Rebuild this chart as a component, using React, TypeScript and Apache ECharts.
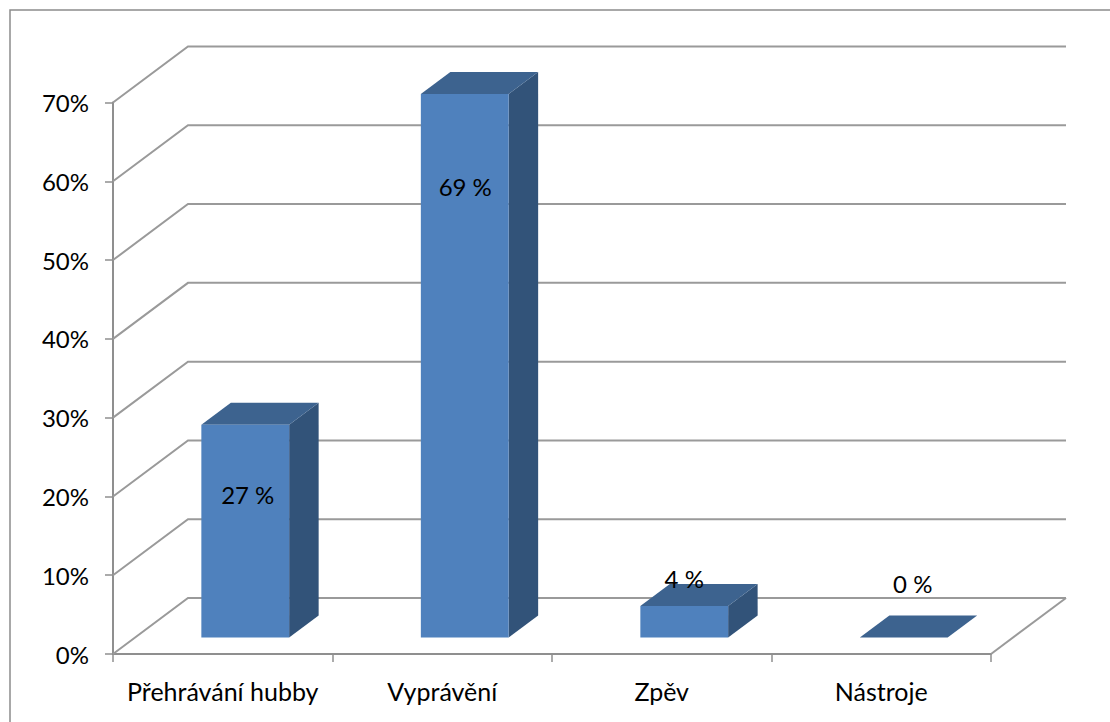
import React, { useEffect, useRef } from "react";
import * as echarts from "echarts";

const categories = ["Přehrávání hubby", "Vyprávění", "Zpěv", "Nástroje"];
const shares = [27, 69, 4, 0];
const wallTicks = [0, 10, 20, 30, 40, 50, 60, 70];

// Perspective of the box: how far the back wall sits from the front plane.
const WALL_DX = 75;
const WALL_DY = 56;
// Bars stand in the middle of the floor, with a shallower depth than the box.
const BAR_DX = 29.5;
const BAR_DY = 22;
const BAR_INSET_DX = 22.5;
const BAR_INSET_DY = 16.5;
const BAR_WIDTH_RATIO = 0.4;

// Where each value caption sits relative to the bar's top edge and centre.
const captionShiftX = [2.5, 0.5, 0, 9];
const captionShiftY = [70, 93, -27, -54];

const LINE = "#9a9a9a";
const AXIS = "#8f8f8f";
const FRONT = "#4f81bd";
const TOP = "#3d638f";
const SIDE = "#325379";
const FONT = "Lato";
const FONT_SIZE = 24;
const CATEGORY_FONT_SIZE = 25;

function renderWall(params: any, api: any) {
  const v = api.value(1);
  const cs = params.coordSys;
  const [, y] = api.coord([0, v]);
  const left = cs.x;
  const right = cs.x + cs.width;
  const children: any[] = [
    {
      type: "polyline",
      shape: {
        points: [
          [left, y],
          [left + WALL_DX, y - WALL_DY],
          [right + WALL_DX, y - WALL_DY],
        ],
      },
      style: { fill: "none", stroke: LINE, lineWidth: 2 },
    },
  ];
  if (v === 0) {
    children.push({
      type: "line",
      shape: { x1: right, y1: y, x2: right + WALL_DX, y2: y - WALL_DY },
      style: { stroke: LINE, lineWidth: 2 },
    });
  }
  return { type: "group", children };
}

function renderBar(params: any, api: any) {
  const i = params.dataIndex;
  const v = api.value(1);
  const [cx, y0] = api.coord([i, 0]);
  const [, yTop] = api.coord([i, v]);
  const width = api.size([1, 0])[0] * BAR_WIDTH_RATIO;
  const l = cx - width / 2 + BAR_INSET_DX;
  const r = l + width;
  const b = y0 - BAR_INSET_DY;
  const t = yTop - BAR_INSET_DY;
  const children: any[] = [
    {
      type: "polygon",
      shape: {
        points: [
          [r, b],
          [r + BAR_DX, b - BAR_DY],
          [r + BAR_DX, t - BAR_DY],
          [r, t],
        ],
      },
      style: { fill: SIDE },
    },
    {
      type: "polygon",
      shape: {
        points: [
          [l, t],
          [l + BAR_DX, t - BAR_DY],
          [r + BAR_DX, t - BAR_DY],
          [r, t],
        ],
      },
      style: { fill: TOP },
    },
    {
      type: "rect",
      shape: { x: l, y: t, width, height: b - t },
      style: { fill: FRONT },
    },
    {
      type: "text",
      style: {
        x: (l + r) / 2 + captionShiftX[i],
        y: t + captionShiftY[i],
        text: `${v} %`,
        fill: "#000",
        font: `${FONT_SIZE}px ${FONT}`,
        align: "center",
        verticalAlign: "middle",
      },
    },
  ];
  return { type: "group", children };
}

export default function App() {
  const ref = useRef<HTMLDivElement>(null);

  useEffect(() => {
    const chart = echarts.init(ref.current!, null, { renderer: "svg" });
    chart.setOption({
      animation: false,
      backgroundColor: "#fff",
      grid: { left: 113, right: 119, top: 102.5, bottom: 68 },
      graphic: [
        {
          type: "polyline",
          silent: true,
          shape: {
            points: [
              [10, 722],
              [10, 10],
              [1110, 10],
            ],
          },
          style: { fill: "none", stroke: "#8c8c8c", lineWidth: 1.5 },
        },
      ],
      xAxis: {
        type: "category",
        data: categories,
        axisLine: { lineStyle: { color: AXIS, width: 2 } },
        axisTick: { show: true, alignWithLabel: false, length: 8, lineStyle: { color: AXIS, width: 1.5 } },
        axisLabel: {
          color: "#000",
          fontFamily: FONT,
          fontSize: CATEGORY_FONT_SIZE,
          margin: 24,
          interval: 0,
        },
      },
      yAxis: {
        type: "value",
        min: 0,
        max: 70,
        interval: 10,
        splitLine: { show: false },
        axisLine: { show: true, lineStyle: { color: AXIS, width: 2 } },
        axisTick: { show: true, length: 8, lineStyle: { color: AXIS, width: 1.5 } },
        axisLabel: {
          color: "#000",
          fontFamily: FONT,
          fontSize: FONT_SIZE,
          margin: 24,
          padding: [5, 0, 0, 0],
          formatter: "{value}%",
        },
      },
      series: [
        {
          type: "custom",
          coordinateSystem: "cartesian2d",
          renderItem: renderWall,
          data: wallTicks.map((v) => [0, v]),
          encode: { x: 0, y: 1 },
          silent: true,
          z: 1,
        },
        {
          type: "custom",
          coordinateSystem: "cartesian2d",
          renderItem: renderBar,
          data: shares.map((v, i) => [i, v]),
          encode: { x: 0, y: 1 },
          silent: true,
          z: 3,
        },
      ],
    });
    return () => chart.dispose();
  }, []);

  return (
    <div
      ref={ref}
      style={{ position: "absolute", left: 0, top: 0, width: 1110, height: 722 }}
    />
  );
}
